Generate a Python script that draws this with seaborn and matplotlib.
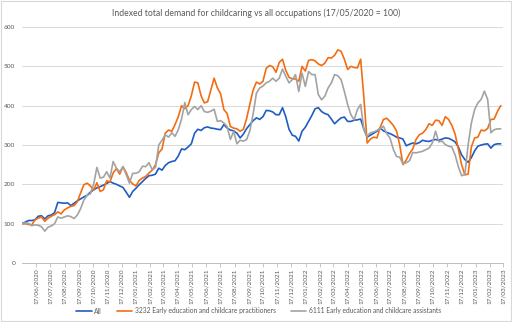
import numpy as np
import pandas as pd
import matplotlib
matplotlib.use("Agg")
import matplotlib.pyplot as plt
import matplotlib.dates as mdates
from matplotlib.patches import Rectangle
import seaborn as sns

start_date = "2020-05-17"
n_weeks = 148

all_occ = [100, 104, 108, 108, 110, 119, 120, 112, 120, 122, 128, 154, 153, 152, 153, 146, 152, 158, 163, 168,
           172, 180, 186, 191, 194, 198, 202, 207, 203, 200, 196, 192, 180, 167, 182, 190, 199, 207, 215, 222,
           223, 226, 241, 236, 248, 255, 258, 260, 272, 290, 288, 295, 303, 330, 340, 337, 344, 346, 343, 342,
           340, 339, 352, 343, 338, 336, 330, 318, 328, 342, 352, 362, 369, 365, 372, 388, 387, 384, 377, 377,
           395, 372, 340, 325, 322, 310, 335, 345, 360, 375, 392, 395, 385, 380, 377, 366, 354, 362, 369, 371,
           360, 360, 363, 364, 366, 340, 320, 325, 330, 335, 343, 336, 332, 329, 325, 320, 318, 315, 298, 302,
           305, 303, 306, 312, 310, 309, 312, 314, 312, 315, 318, 317, 313, 308, 295, 275, 263, 256, 268, 285,
           297, 300, 302, 303, 292, 301, 303, 303]

practitioners = [100, 100, 98, 97, 110, 114, 117, 106, 114, 119, 123, 130, 125, 135, 140, 144, 146, 156, 178, 199,
                 203, 196, 185, 204, 182, 186, 209, 206, 229, 240, 226, 245, 230, 210, 201, 196, 210, 216, 220, 229,
                 236, 250, 280, 290, 330, 338, 335, 352, 372, 400, 392, 400, 425, 460, 458, 425, 407, 410, 440, 470,
                 445, 430, 390, 380, 347, 343, 341, 335, 340, 368, 405, 440, 460, 455, 462, 495, 502, 499, 485, 510,
                 518, 490, 472, 468, 468, 462, 500, 488, 515, 517, 514, 506, 502, 508, 522, 521, 528, 542, 538, 518,
                 492, 500, 497, 496, 518, 420, 305, 315, 320, 318, 345, 365, 368, 360, 350, 336, 300, 250, 262, 278,
                 290, 314, 326, 330, 339, 354, 350, 363, 362, 350, 372, 365, 350, 328, 290, 250, 224, 226, 295, 318,
                 320, 338, 336, 342, 365, 366, 385, 400]

assistants = [100, 102, 101, 95, 97, 96, 92, 81, 91, 94, 100, 117, 114, 117, 120, 118, 113, 122, 138, 160,
              172, 176, 200, 243, 216, 218, 232, 216, 258, 241, 232, 245, 225, 203, 228, 228, 232, 246, 245, 255,
              237, 243, 300, 312, 326, 320, 331, 322, 339, 366, 408, 377, 390, 398, 390, 400, 385, 383, 386, 391,
              360, 362, 356, 347, 314, 335, 303, 312, 310, 314, 337, 380, 432, 445, 450, 458, 462, 470, 462, 470,
              493, 475, 458, 466, 479, 436, 483, 449, 487, 479, 479, 428, 415, 424, 445, 458, 479, 476, 466, 436,
              403, 377, 364, 390, 403, 339, 322, 331, 333, 337, 341, 348, 329, 318, 290, 271, 269, 252, 255, 260,
              281, 280, 282, 284, 288, 292, 305, 335, 308, 310, 301, 297, 295, 275, 245, 222, 225, 300, 356, 390,
              407, 416, 437, 416, 331, 339, 341, 341]

series_names = ["All",
                "3232 Early education and childcare practitioners",
                "6111 Early education and childcare assistants"]
colors = ["#1f5cc4", "#f26d12", "#a3a3a3"]

dates = pd.date_range(start_date, periods=n_weeks, freq="7D")
df = pd.concat([
    pd.DataFrame({"date": dates, "value": vals, "series": name})
    for name, vals in zip(series_names, [all_occ, practitioners, assistants])
])

sns.set_theme(style="white")
plt.rcParams["font.family"] = ["Lato", "DejaVu Sans"]

fig = plt.figure(figsize=(5.12, 3.22), dpi=100)
ax = fig.add_axes([22 / 512, 1 - 263 / 322, (503 - 22) / 512, (263 - 27) / 322])

sns.lineplot(data=df, x="date", y="value", hue="series", palette=colors,
             hue_order=series_names, linewidth=1.2, ax=ax, legend=False)

tick_dates = pd.date_range("2020-05-17", "2023-03-17", freq="MS") + pd.Timedelta(days=16)
ax.set_xticks(tick_dates)
ax.set_xticklabels([d.strftime("%d/%m/%Y") for d in tick_dates], rotation=90,
                   fontsize=4.6, color="#595959")
ax.set_xlim(pd.Timestamp("2020-05-17"), pd.Timestamp("2023-03-17"))
ax.set_ylim(0, 600)
ax.set_yticks(range(0, 601, 100))
ax.set_yticklabels([str(v) for v in range(0, 601, 100)], fontsize=4.6, color="#595959")
ax.tick_params(axis="y", length=0, pad=5)
ax.tick_params(axis="x", length=3, width=0.6, color="#bfbfbf", pad=1, direction="out", bottom=True)
ax.grid(axis="y", color="#d9d9d9", linewidth=0.7)
ax.set_axisbelow(True)
for s in ["top", "right", "left"]:
    ax.spines[s].set_visible(False)
ax.spines["bottom"].set_color("#bfbfbf")
ax.spines["bottom"].set_linewidth(0.7)
ax.set_xlabel("")
ax.set_ylabel("")

fig.text(0.5, 1 - 13 / 322, "Indexed total demand for childcaring vs all occupations (17/05/2020 = 100)",
         ha="center", va="center", fontsize=6.2, color="#595959")

handles = [plt.Line2D([0], [0], color=c, linewidth=1.2) for c in colors]
fig.legend(handles, series_names, loc="center", bbox_to_anchor=(0.505, 1 - 311 / 322), ncol=3,
           frameon=False, fontsize=4.8, handlelength=2.3, columnspacing=2.3, handletextpad=0.35,
           labelcolor="#595959")

fig.patches.append(Rectangle((0.001, 0.002), 0.997, 0.995, transform=fig.transFigure,
                             fill=False, edgecolor="#d9d9d9", linewidth=0.8))

fig.savefig("out.png", dpi=100)
